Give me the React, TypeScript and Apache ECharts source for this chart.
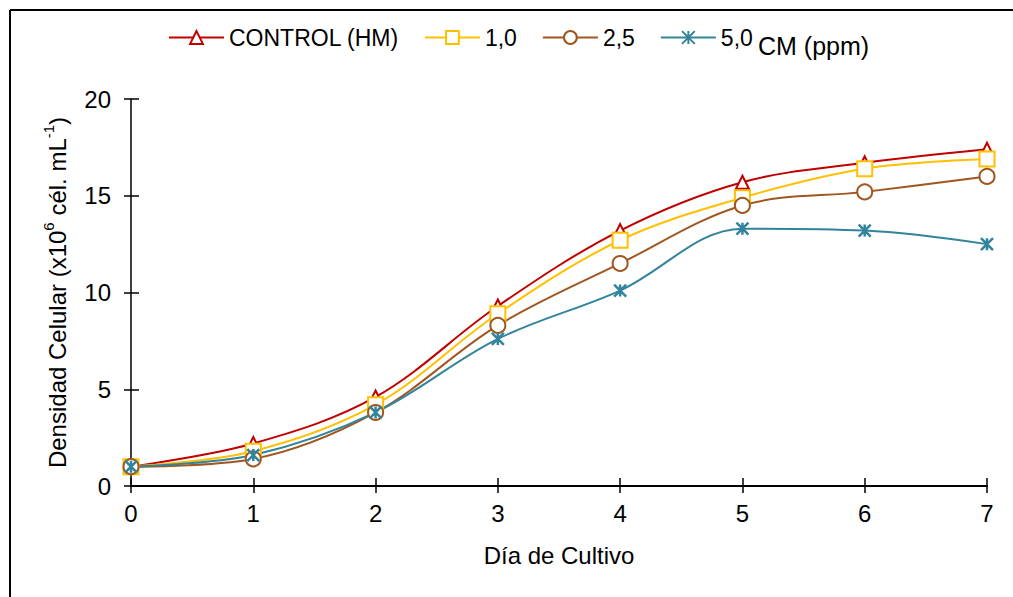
import React, { useEffect, useRef } from "react";
import * as echarts from "echarts";

const days = [0, 1, 2, 3, 4, 5, 6, 7];
const control = [1.0, 2.2, 4.6, 9.3, 13.2, 15.7, 16.7, 17.4];
const c10 = [1.0, 1.8, 4.2, 8.9, 12.7, 14.9, 16.4, 16.9];
const c25 = [1.0, 1.4, 3.8, 8.3, 11.5, 14.5, 15.2, 16.0];
const c50 = [1.0, 1.6, 3.8, 7.6, 10.1, 13.3, 13.2, 12.5];
const seriesNames = ["CONTROL (HM)", "1,0", "2,5", "5,0"];
const yTicks = { min: 0, max: 20, interval: 5 };

const FONT = "'Liberation Sans', Arial, sans-serif";
const asterisk = "path://M0,-5L0,5M-5,-5L5,5M-5,5L5,-5";

export default function App() {
  const ref = useRef<HTMLDivElement>(null);
  useEffect(() => {
    document.body.style.margin = "0";
    const chart = echarts.init(ref.current!, null, { renderer: "svg" });
    const mk = (name: string, data: number[], color: string, symbol: string, size: number, extra: any = {}) => ({
      name,
      type: "line",
      smooth: 0.35,
      data: days.map((d, i) => [d, data[i]]),
      lineStyle: { color, width: 2 },
      itemStyle: { color: "#fff", borderColor: color, borderWidth: 2, ...extra },
      symbol,
      symbolSize: size,
      xAxisIndex: 0,
      yAxisIndex: 0,
      z: 3,
    });
    chart.setOption({
      animation: false,
      textStyle: { fontFamily: FONT },
      legend: {
        top: 21,
        left: 163,
        itemWidth: 55,
        itemHeight: 16,
        itemGap: 25,
        textStyle: { fontSize: 23, color: "#000", fontFamily: FONT },
        data: seriesNames,
      },
      grid: { left: 131, right: 26, top: 99, bottom: 111 },
      xAxis: [
        {
          type: "value",
          min: 0,
          max: 7,
          interval: 1,
          name: "Día de Cultivo",
          nameLocation: "middle",
          nameGap: 57,
          nameTextStyle: { fontSize: 24, color: "#000", fontFamily: FONT },
          axisLine: { lineStyle: { color: "#000", width: 2 } },
          axisTick: { length: 7, lineStyle: { color: "#000", width: 1.5 } },
          axisLabel: { fontSize: 24, color: "#000", margin: 15, fontFamily: FONT },
          splitLine: { show: false },
        },
        {
          type: "value",
          min: 0,
          max: 7,
          interval: 1,
          position: "bottom",
          axisLine: { show: false },
          axisTick: { inside: true, length: 8, lineStyle: { color: "#000", width: 1.5 } },
          axisLabel: { show: false },
          splitLine: { show: false },
        },
      ],
      yAxis: [
        {
          type: "value",
          ...yTicks,
          name: "{a|Densidad Celular (x10}{s|6}{a| cél. mL}{s|-1}{a|)}",
          nameLocation: "middle",
          nameGap: 62,
          nameTextStyle: {
            color: "#000",
            fontFamily: FONT,
            rich: {
              a: { fontSize: 24, color: "#000", fontFamily: FONT, lineHeight: 28, verticalAlign: "bottom" },
              s: { fontSize: 15, color: "#000", fontFamily: FONT, lineHeight: 28, verticalAlign: "top" },
            },
          },
          axisLine: { show: true, lineStyle: { color: "#000", width: 1.5 } },
          axisTick: { show: true, length: 7, lineStyle: { color: "#000", width: 1.5 } },
          axisLabel: { fontSize: 24, color: "#000", margin: 20, fontFamily: FONT },
          splitLine: { show: false },
        },
        {
          type: "value",
          ...yTicks,
          position: "left",
          axisLine: { show: false },
          axisTick: { show: true, inside: true, length: 8, lineStyle: { color: "#000", width: 1.5 } },
          axisLabel: { show: false },
          splitLine: { show: false },
        },
      ],
      graphic: [
        { type: "line", shape: { x1: 10, y1: 10, x2: 1013, y2: 10 }, style: { stroke: "#000", lineWidth: 2 } },
        { type: "line", shape: { x1: 10, y1: 10, x2: 10, y2: 597 }, style: { stroke: "#000", lineWidth: 2 } },
        {
          type: "text",
          left: 758,
          top: 33,
          style: { text: "CM (ppm)", font: `25px ${FONT}`, fill: "#000" },
        },
      ],
      series: [
        mk(seriesNames[3], c50, "#31849B", asterisk, 12, { color: "#31849B", borderWidth: 2.5 }),
        mk(seriesNames[2], c25, "#A0561E", "circle", 15),
        mk(seriesNames[1], c10, "#FFC000", "rect", 15),
        mk(seriesNames[0], control, "#C00000", "triangle", 13),
      ].reverse(),
    });
    return () => chart.dispose();
  }, []);
  return <div ref={ref} style={{ width: 1013, height: 597 }} />;
}
